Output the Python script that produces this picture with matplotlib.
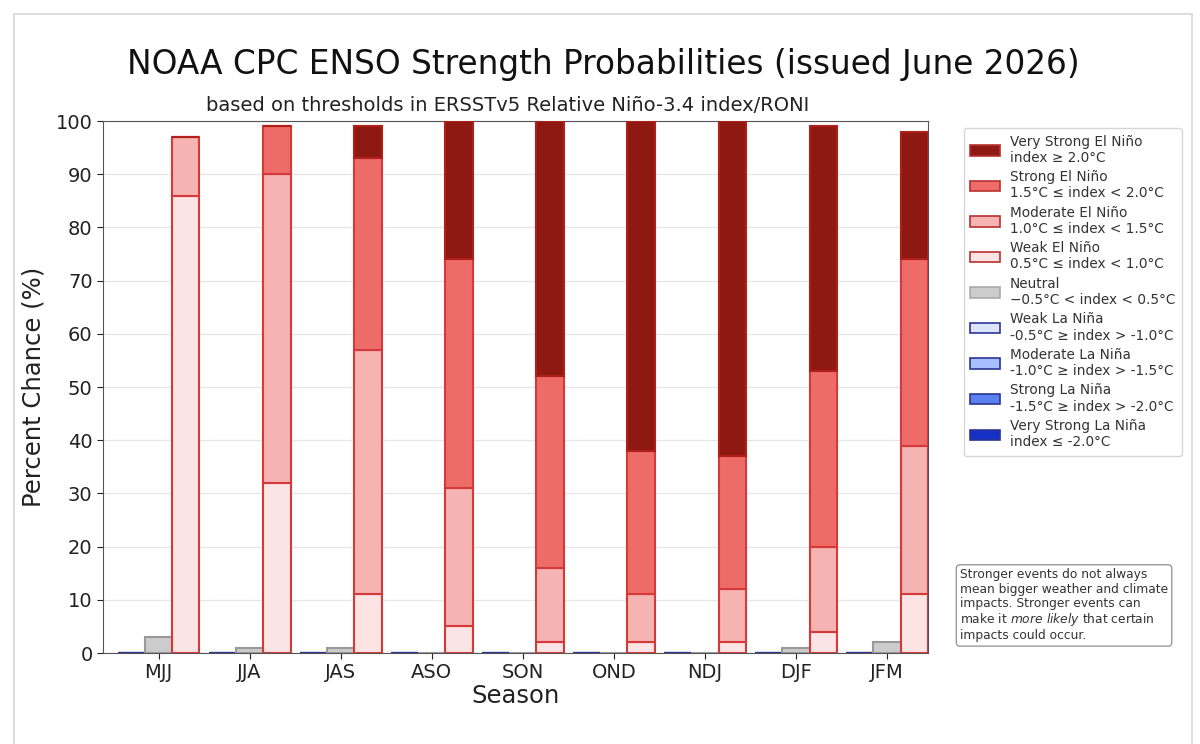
import matplotlib
matplotlib.use('Agg')
import matplotlib.pyplot as plt
from matplotlib.patches import Patch, Rectangle
import numpy as np

# Datos (porcentaje)
seasons = ['MJJ', 'JJA', 'JAS', 'ASO', 'SON', 'OND', 'NDJ', 'DJF', 'JFM']
neutral = [3, 1, 1, 0, 0, 0, 0, 1, 2]
weak_nino = [86, 32, 11, 5, 2, 2, 2, 4, 11]
moderate_nino = [11, 58, 46, 26, 14, 9, 10, 16, 28]
strong_nino = [0, 9, 36, 43, 36, 27, 25, 33, 35]
very_strong_nino = [0, 0, 6, 26, 48, 62, 63, 46, 24]
weak_nina = [0, 0, 0, 0, 0, 0, 0, 0, 0]
moderate_nina = [0, 0, 0, 0, 0, 0, 0, 0, 0]
strong_nina = [0, 0, 0, 0, 0, 0, 0, 0, 0]
very_strong_nina = [0, 0, 0, 0, 0, 0, 0, 0, 0]

nino_labels = ['Weak El Niño\n0.5°C ≤ index < 1.0°C',
               'Moderate El Niño\n1.0°C ≤ index < 1.5°C',
               'Strong El Niño\n1.5°C ≤ index < 2.0°C',
               'Very Strong El Niño\nindex ≥ 2.0°C']
nina_labels = ['Weak La Niña\n-0.5°C ≥ index > -1.0°C',
               'Moderate La Niña\n-1.0°C ≥ index > -1.5°C',
               'Strong La Niña\n-1.5°C ≥ index > -2.0°C',
               'Very Strong La Niña\nindex ≤ -2.0°C']
neutral_label = 'Neutral\n\u22120.5°C < index < 0.5°C'

nino_colors = ['#fde4e4', '#f5b3b2', '#ee6c67', '#8e1912']
nino_edge = '#d6393a'
nina_colors = ['#dbe5ff', '#a7beff', '#5b80f2', '#1530c4']
nina_edge = '#2b3590'

fig = plt.figure(figsize=(12, 7.44), dpi=100)
ax = fig.add_axes([0.0858, 0.1223, 0.6875, 0.7150])

x = np.arange(len(seasons))
w = 0.3

# La Niña (izquierda)
bottom = np.zeros(len(seasons))
for vals, col in zip([weak_nina, moderate_nina, strong_nina, very_strong_nina], nina_colors):
    ax.bar(x - w, vals, w, bottom=bottom, color=col, edgecolor=nina_edge, linewidth=1.5, zorder=3)
    bottom += np.array(vals)

# Neutral (centro)
ax.bar(x, neutral, w, color='#cccccc', edgecolor='#999999', linewidth=1.5, zorder=3)

# El Niño (derecha)
bottom = np.zeros(len(seasons))
for vals, col in zip([weak_nino, moderate_nino, strong_nino, very_strong_nino], nino_colors):
    ec = nino_edge if col != nino_colors[-1] else '#b02018'
    ax.bar(x + w, vals, w, bottom=bottom, color=col, edgecolor=ec, linewidth=1.5, zorder=3)
    bottom += np.array(vals)

ax.set_xlim(-0.61, 8.45)
ax.set_ylim(0, 100)
ax.set_yticks(np.arange(0, 101, 10))
ax.set_xticks(x)
ax.set_xticklabels(seasons)
ax.tick_params(labelsize=14, colors='#222222', length=4)
ax.yaxis.grid(True, color='#e6e6e6', linewidth=0.9, zorder=0)
ax.set_axisbelow(True)
for s in ax.spines.values():
    s.set_color('#555555')
ax.set_xlabel('Season', fontsize=17.5, color='#222222', labelpad=1)
ax.set_ylabel('Percent Chance (%)', fontsize=17.5, color='#222222', labelpad=7)
ax.text(0.49, 1.012, 'based on thresholds in ERSSTv5 Relative Niño-3.4 index/RONI', transform=ax.transAxes,
        fontsize=14, color='#222222', ha='center', va='bottom')
fig.suptitle('NOAA CPC ENSO Strength Probabilities (issued June 2026)', fontsize=23.6, x=0.503, y=0.935, color='#111111')

# Leyenda
handles = []
labels = []
for col, lab in zip(nino_colors[::-1], nino_labels[::-1]):
    handles.append(Patch(facecolor=col, edgecolor='#b83030', linewidth=1.2))
    labels.append(lab)
handles.append(Patch(facecolor='#cccccc', edgecolor='#aaaaaa', linewidth=1.2))
labels.append(neutral_label)
for col, lab in zip(nina_colors, nina_labels):
    handles.append(Patch(facecolor=col, edgecolor=nina_edge, linewidth=1.2))
    labels.append(lab)
fig.legend(handles, labels, loc='upper left', bbox_to_anchor=(0.803, 0.828), borderaxespad=0,
           fontsize=9.8, handlelength=2.2, handleheight=0.8, handletextpad=0.7, labelspacing=0.39,
           borderpad=0.5, frameon=True, edgecolor='#cccccc', fancybox=True, labelcolor='#333333')

# Nota
fig.text(0.800, 0.236,
         'Stronger events do not always\nmean bigger weather and climate\nimpacts. Stronger events can\n'
         'make it $\\it{more\\ likely}$ that certain\nimpacts could occur.',
         fontsize=8.8, color='#333333', ha='left', va='top', linespacing=1.12,
         bbox=dict(boxstyle='round,pad=0.3', facecolor='white', edgecolor='#999999'))

# Marco exterior
fig.patches.append(Rectangle((14 / 1200, -0.02), 1178 / 1200, 1.02 - 14 / 744, transform=fig.transFigure,
                             fill=False, edgecolor='#d5d5d5', linewidth=1.2))

fig.savefig('out.png', dpi=100)
